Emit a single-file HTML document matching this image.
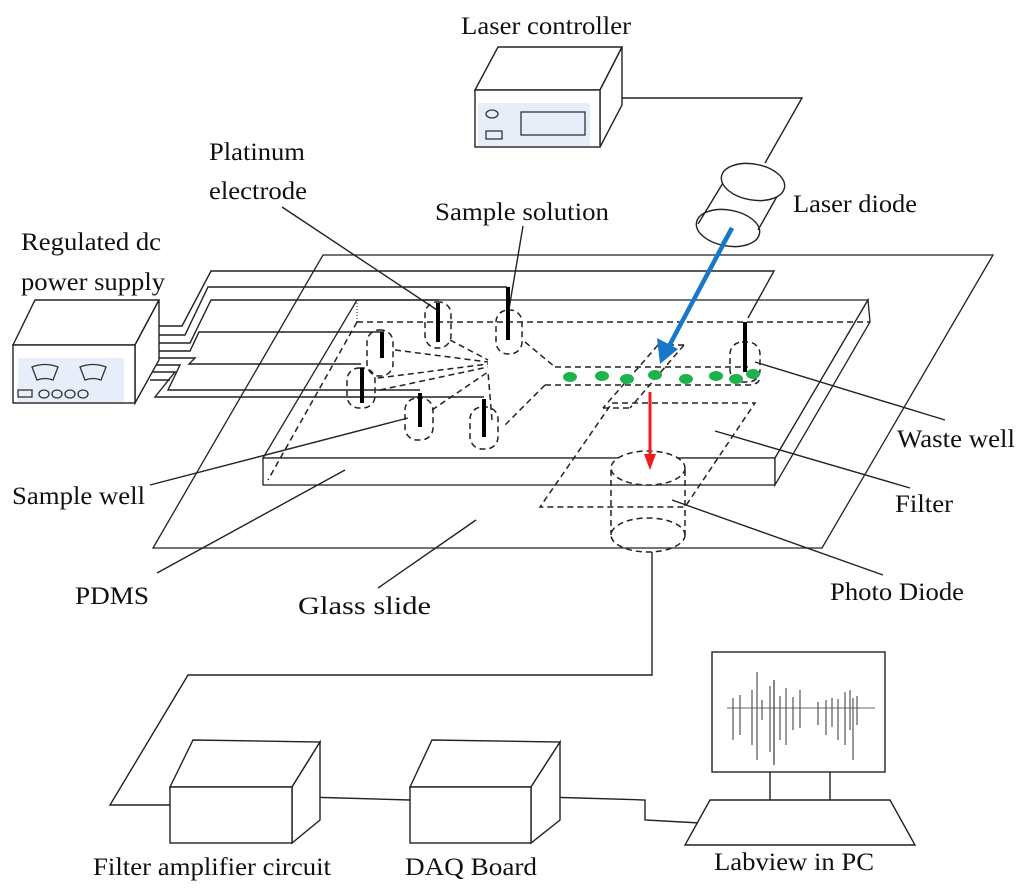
<!DOCTYPE html>
<html><head><meta charset="utf-8"><style>
html,body{margin:0;padding:0;background:#fff}
svg{display:block}
text{font-family:"Liberation Serif",serif;font-size:25px;fill:#111}
</style></head><body>
<svg width="1024" height="894" viewBox="0 0 1024 894" xmlns="http://www.w3.org/2000/svg">
<g fill="none" stroke="#222" stroke-width="1.3">
<polygon points="323,255 993,255 822,548 153,548" fill="#fff"/>
<polygon points="357,300 868,300 775,458 263,458" fill="#fff"/>
<rect x="263" y="458" width="512" height="27" fill="#fff"/>
<polygon points="775,458 868,300 870,322 775,485" fill="#fff"/>
</g>
<g fill="none" stroke="#222" stroke-width="1.5" stroke-dasharray="6,4">
<line x1="357" y1="322" x2="870" y2="322"/>
<line x1="357" y1="322" x2="268" y2="480"/>
<line x1="555" y1="367" x2="748" y2="367"/>
<path d="M545,385 L748,385 Q760,385 760,376"/>
<line x1="525" y1="342" x2="555" y2="367"/>
<line x1="545" y1="385" x2="505" y2="425"/>
<line x1="395" y1="350" x2="488" y2="362"/>
<line x1="378" y1="378" x2="488" y2="364"/>
<line x1="380" y1="390" x2="488" y2="367"/>
<line x1="432" y1="410" x2="488" y2="372"/>
<line x1="450" y1="340" x2="488" y2="360"/>
<line x1="492" y1="420" x2="488" y2="372"/>
<line x1="658" y1="345" x2="684" y2="345"/>
<line x1="658" y1="345" x2="603" y2="408"/>
<line x1="684" y1="345" x2="630" y2="408"/>
<line x1="603" y1="408" x2="630" y2="408"/>
<polygon points="612,403 755,403 685,507 540,507"/>
<rect x="425" y="302" width="26" height="46" rx="12"/>
<rect x="496" y="310" width="26" height="44" rx="12"/>
<rect x="367" y="330" width="26" height="46" rx="12"/>
<rect x="347" y="368" width="28" height="40" rx="12"/>
<rect x="405" y="398" width="28" height="42" rx="12"/>
<rect x="470" y="407" width="28" height="42" rx="12"/>
<rect x="730" y="342" width="30" height="40" rx="12"/>
<ellipse cx="648" cy="468" rx="37" ry="17" fill="#fff"/>
<ellipse cx="648" cy="535" rx="37" ry="17"/>
<line x1="611" y1="470" x2="611" y2="535"/>
<line x1="685" y1="470" x2="685" y2="535"/>
</g>
<line x1="357" y1="300" x2="357" y2="322" stroke="#222" stroke-width="1" stroke-dasharray="1,2"/>
<g fill="#1db34a">
<ellipse cx="570" cy="377" rx="7" ry="5"/><ellipse cx="602" cy="376" rx="7" ry="5"/>
<ellipse cx="627" cy="379" rx="7" ry="5"/><ellipse cx="655" cy="375" rx="7" ry="5"/>
<ellipse cx="686" cy="379" rx="7" ry="5"/><ellipse cx="716" cy="376" rx="7" ry="5"/>
<ellipse cx="736" cy="379" rx="7" ry="5"/><ellipse cx="753" cy="374" rx="7" ry="5"/>
</g>
<g fill="none" stroke="#222" stroke-width="1.4">
<polyline points="150,326 182,326 211,271 774,271 748,318"/>
<polyline points="150,335 185,335 208,287 507,287"/>
<polyline points="150,343 190,343 211,300 439,300"/>
<polyline points="150,351 190,351 199,332 384,332"/>
<polyline points="150,358 195,358 189,364 361,364"/>
<polyline points="150,365 180,365 168,390 420,390"/>
<polyline points="150,372 175,372 155,397 484,397"/>
<line x1="150" y1="380" x2="170" y2="380"/>
<polyline points="610,98 802,98 765,163"/>
<polyline points="652,552 652,675 188,675 110,805 172,805"/>
<line x1="306" y1="797" x2="410" y2="800"/>
<polyline points="545,797 645,800 645,820 700,823"/>
<line x1="282" y1="207" x2="437" y2="310"/>
<line x1="523" y1="226" x2="508" y2="315"/>
<line x1="755" y1="362" x2="945" y2="420"/>
<line x1="715" y1="431" x2="910" y2="488"/>
<line x1="672" y1="500" x2="883" y2="575"/>
<line x1="150" y1="485" x2="408" y2="418"/>
<line x1="157" y1="573" x2="345" y2="470"/>
<line x1="378" y1="588" x2="476" y2="520"/>
</g>
<g stroke="#000" stroke-width="4">
<line x1="438" y1="303" x2="438" y2="342"/>
<line x1="508" y1="287" x2="508" y2="340"/>
<line x1="382" y1="332" x2="382" y2="358"/>
<line x1="362" y1="368" x2="362" y2="403"/>
<line x1="420" y1="393" x2="420" y2="427"/>
<line x1="484" y1="399" x2="484" y2="437"/>
<line x1="745" y1="322" x2="745" y2="372"/>
</g>
<line x1="732" y1="228" x2="668" y2="348" stroke="#1777c9" stroke-width="4.5"/>
<polygon points="660,364 657,338 678,349" fill="#1777c9"/>
<line x1="650" y1="392" x2="650" y2="455" stroke="#ee1c1c" stroke-width="3"/>
<polygon points="650,470 644,454 656,454" fill="#ee1c1c"/>
<g fill="none" stroke="#222" stroke-width="1.4">
<polygon points="13,345 35,300 159,300 135,345" fill="#fff"/>
<polygon points="135,345 159,300 159,360 135,403" fill="#fff"/>
<rect x="13" y="345" width="122" height="58" fill="#fff"/>
</g>
<rect x="18" y="358" width="106" height="44" fill="#e8eef9"/>
<g fill="none" stroke="#333" stroke-width="1.3">
<path d="M32,367 Q45,362 58,367 L53,380 Q45,377 37,380 Z"/>
<path d="M80,367 Q93,362 106,367 L101,380 Q93,377 85,380 Z"/>
<rect x="18" y="390" width="14" height="7"/>
<ellipse cx="44" cy="394" rx="5" ry="4"/><ellipse cx="57" cy="394" rx="5" ry="4"/>
<ellipse cx="70" cy="394" rx="5" ry="4"/><ellipse cx="83" cy="394" rx="5" ry="4"/>
</g>
<g fill="none" stroke="#222" stroke-width="1.4">
<polygon points="475,90 498,47 622,47 600,90" fill="#fff"/>
<polygon points="600,90 622,47 622,105 600,147" fill="#fff"/>
<rect x="475" y="90" width="125" height="57" fill="#fff"/>
</g>
<rect x="478" y="103" width="112" height="43" fill="#e8eef9"/>
<g fill="none" stroke="#333" stroke-width="1.3">
<rect x="521" y="112" width="64" height="23"/>
<ellipse cx="492" cy="114" rx="6" ry="4"/>
<rect x="486" y="131" width="16" height="8"/>
</g>
<g fill="#fff" stroke="#222" stroke-width="1.4">
<line x1="726" y1="178" x2="698" y2="224"/>
<line x1="784" y1="184" x2="758" y2="230"/>
<ellipse cx="753" cy="182" rx="32" ry="18" transform="rotate(10 753 182)"/>
<ellipse cx="728" cy="228" rx="32" ry="18" transform="rotate(10 728 228)" fill="none"/>
</g>
<line x1="732" y1="228" x2="722" y2="246" stroke="#1777c9" stroke-width="4.5"/>
<g fill="#fff" stroke="#222" stroke-width="1.4">
<polygon points="170,787 193,740 320,742 292,787"/>
<polygon points="292,787 320,742 320,820 292,843"/>
<rect x="170" y="787" width="122" height="56"/>
<polygon points="410,787 432,740 560,742 531,787"/>
<polygon points="531,787 560,742 560,820 531,843"/>
<rect x="410" y="787" width="121" height="56"/>
<rect x="712" y="652" width="173" height="120"/>
<line x1="770" y1="772" x2="770" y2="800"/>
<line x1="830" y1="772" x2="830" y2="800"/>
<polygon points="710,800 890,800 915,845 685,845"/>
</g>
<g stroke="#555" stroke-width="1.2">
<line x1="727" y1="708" x2="875" y2="708" stroke="#888"/>
<line x1="733" y1="698" x2="733" y2="740"/><line x1="740" y1="695" x2="740" y2="735"/>
<line x1="752" y1="690" x2="752" y2="745"/><line x1="757" y1="672" x2="757" y2="760"/>
<line x1="762" y1="700" x2="762" y2="720"/><line x1="770" y1="686" x2="770" y2="752"/>
<line x1="774" y1="680" x2="774" y2="765" stroke="#333"/><line x1="780" y1="696" x2="780" y2="740"/>
<line x1="786" y1="688" x2="786" y2="745"/><line x1="793" y1="697" x2="793" y2="730"/>
<line x1="800" y1="690" x2="800" y2="728"/><line x1="818" y1="702" x2="818" y2="725"/>
<line x1="826" y1="700" x2="826" y2="735"/><line x1="832" y1="698" x2="832" y2="727"/>
<line x1="838" y1="699" x2="838" y2="740"/><line x1="845" y1="692" x2="845" y2="745"/>
<line x1="850" y1="690" x2="850" y2="730"/><line x1="853" y1="698" x2="853" y2="760"/>
<line x1="857" y1="696" x2="857" y2="725"/>
</g>
<g>
<text x="461" y="34" textLength="170" lengthAdjust="spacingAndGlyphs">Laser controller</text>
<text x="209" y="160" textLength="96" lengthAdjust="spacingAndGlyphs">Platinum</text>
<text x="209" y="199" textLength="98" lengthAdjust="spacingAndGlyphs">electrode</text>
<text x="435" y="220" textLength="174" lengthAdjust="spacingAndGlyphs">Sample solution</text>
<text x="793" y="212" textLength="124" lengthAdjust="spacingAndGlyphs">Laser diode</text>
<text x="21" y="250" textLength="140" lengthAdjust="spacingAndGlyphs">Regulated dc</text>
<text x="21" y="290" textLength="144" lengthAdjust="spacingAndGlyphs">power supply</text>
<text x="897" y="447" textLength="118" lengthAdjust="spacingAndGlyphs">Waste well</text>
<text x="895" y="512" textLength="58" lengthAdjust="spacingAndGlyphs">Filter</text>
<text x="12" y="504" textLength="133" lengthAdjust="spacingAndGlyphs">Sample well</text>
<text x="75" y="604" textLength="74" lengthAdjust="spacingAndGlyphs">PDMS</text>
<text x="298" y="614" textLength="133" lengthAdjust="spacingAndGlyphs">Glass slide</text>
<text x="830" y="600" textLength="134" lengthAdjust="spacingAndGlyphs">Photo Diode</text>
<text x="93" y="875" textLength="238" lengthAdjust="spacingAndGlyphs">Filter amplifier circuit</text>
<text x="405" y="875" textLength="132" lengthAdjust="spacingAndGlyphs">DAQ Board</text>
<text x="714" y="870" textLength="160" lengthAdjust="spacingAndGlyphs">Labview in PC</text>
</g>
</svg>
</body></html>
